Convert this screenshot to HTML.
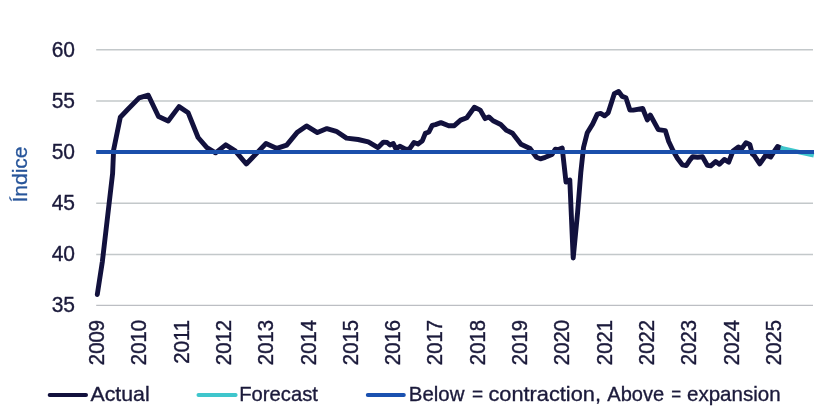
<!DOCTYPE html>
<html><head><meta charset="utf-8"><style>
html,body{margin:0;padding:0;background:#fff;}
body{width:825px;height:413px;overflow:hidden;}
svg{display:block;will-change:transform;}
.t{font-family:"Liberation Sans",sans-serif;font-size:21px;fill:#1b1a3b;stroke:#1b1a3b;stroke-width:0.35px;}
.yr{font-size:20.3px;}
.yt{font-family:"Liberation Sans",sans-serif;font-size:21px;fill:#27559a;stroke:#27559a;stroke-width:0.3px;}
</style></head><body>
<svg width="825" height="413" viewBox="0 0 825 413">
<line x1="96.2" y1="49.7" x2="813" y2="49.7" stroke="#c3c8ca" stroke-width="1.4"/>
<line x1="96.2" y1="101.0" x2="813" y2="101.0" stroke="#c3c8ca" stroke-width="1.4"/>
<line x1="96.2" y1="152.2" x2="813" y2="152.2" stroke="#c3c8ca" stroke-width="1.4"/>
<line x1="96.2" y1="203.3" x2="813" y2="203.3" stroke="#c3c8ca" stroke-width="1.4"/>
<line x1="96.2" y1="254.5" x2="813" y2="254.5" stroke="#c3c8ca" stroke-width="1.4"/>
<line x1="96.2" y1="305.4" x2="813" y2="305.4" stroke="#bcbec3" stroke-width="1.4"/>
<text transform="translate(75,56.6) scale(1,1.06)" text-anchor="end" class="t">60</text>
<text transform="translate(75,107.9) scale(1,1.06)" text-anchor="end" class="t">55</text>
<text transform="translate(75,159.1) scale(1,1.06)" text-anchor="end" class="t">50</text>
<text transform="translate(75,210.2) scale(1,1.06)" text-anchor="end" class="t">45</text>
<text transform="translate(75,261.4) scale(1,1.06)" text-anchor="end" class="t">40</text>
<text transform="translate(75,312.3) scale(1,1.06)" text-anchor="end" class="t">35</text>
<text transform="translate(104.0,320) rotate(-90) scale(1,1.11)" text-anchor="end" class="t yr">2009</text>
<text transform="translate(146.3,320) rotate(-90) scale(1,1.11)" text-anchor="end" class="t yr">2010</text>
<text transform="translate(188.6,320) rotate(-90) scale(1,1.11)" text-anchor="end" class="t yr">2011</text>
<text transform="translate(230.9,320) rotate(-90) scale(1,1.11)" text-anchor="end" class="t yr">2012</text>
<text transform="translate(273.2,320) rotate(-90) scale(1,1.11)" text-anchor="end" class="t yr">2013</text>
<text transform="translate(315.5,320) rotate(-90) scale(1,1.11)" text-anchor="end" class="t yr">2014</text>
<text transform="translate(357.8,320) rotate(-90) scale(1,1.11)" text-anchor="end" class="t yr">2015</text>
<text transform="translate(400.1,320) rotate(-90) scale(1,1.11)" text-anchor="end" class="t yr">2016</text>
<text transform="translate(442.4,320) rotate(-90) scale(1,1.11)" text-anchor="end" class="t yr">2017</text>
<text transform="translate(484.7,320) rotate(-90) scale(1,1.11)" text-anchor="end" class="t yr">2018</text>
<text transform="translate(527.0,320) rotate(-90) scale(1,1.11)" text-anchor="end" class="t yr">2019</text>
<text transform="translate(569.3,320) rotate(-90) scale(1,1.11)" text-anchor="end" class="t yr">2020</text>
<text transform="translate(611.6,320) rotate(-90) scale(1,1.11)" text-anchor="end" class="t yr">2021</text>
<text transform="translate(653.9,320) rotate(-90) scale(1,1.11)" text-anchor="end" class="t yr">2022</text>
<text transform="translate(696.2,320) rotate(-90) scale(1,1.11)" text-anchor="end" class="t yr">2023</text>
<text transform="translate(738.5,320) rotate(-90) scale(1,1.11)" text-anchor="end" class="t yr">2024</text>
<text transform="translate(780.8,320) rotate(-90) scale(1,1.11)" text-anchor="end" class="t yr">2025</text>
<polyline points="97.3,294.5 102.4,261.3 112.6,173.5 113.6,150.0 120.3,117.2 127.9,109.3 139.1,97.9 148.3,95.2 158.5,116.5 168.2,121.0 179.0,106.6 188.2,112.8 198.1,137.5 206.9,147.7 215.6,152.8 225.7,144.8 235.2,150.9 246.3,164.0 266.0,143.5 276.9,148.4 286.7,145.1 297.0,132.6 306.5,125.9 317.4,132.6 326.9,128.6 336.3,131.3 346.5,138.1 358.1,139.5 368.3,141.9 378.0,147.6 383.5,142.1 387.1,142.5 390.0,145.0 393.3,143.6 395.8,148.8 399.8,146.3 405.6,149.2 409.3,149.2 414.0,142.5 418.0,144.0 422.4,140.7 425.3,133.4 428.9,132.0 432.2,125.4 435.4,124.6 440.9,122.6 448.7,125.7 454.3,125.7 460.6,120.1 466.8,117.7 474.4,107.2 480.3,110.1 485.1,118.6 488.8,116.9 493.1,120.8 500.7,124.5 506.6,130.4 512.5,133.3 521.0,144.2 530.0,148.5 536.5,157.3 540.4,158.8 545.2,157.3 552.0,154.4 555.4,149.1 558.3,149.6 562.2,148.1 566.0,182.0 569.8,180.0 573.2,258.0 577.6,212.5 580.8,172.5 583.5,147.5 587.3,132.7 592.6,124.1 597.3,114.1 600.6,113.4 604.6,115.8 608.2,112.8 614.3,93.7 618.6,91.5 622.3,96.4 625.9,97.7 629.9,110.1 633.2,110.1 642.7,108.5 647.3,119.9 650.3,115.0 658.3,129.6 665.3,130.6 668.7,141.5 673.1,150.8 677.4,158.3 682.3,164.8 686.2,165.6 690.0,159.9 692.7,156.7 697.6,157.2 702.5,156.7 707.4,165.4 710.7,165.9 715.6,161.6 719.4,164.3 724.3,159.4 728.7,162.1 733.0,151.0 738.4,147.0 741.8,148.5 746.0,142.8 749.8,144.5 752.4,154.1 754.1,155.4 759.8,163.8 765.9,155.0 770.6,157.1 773.6,152.4 777.5,146.5 780.5,148.0" fill="none" stroke="#12113d" stroke-width="4.9" stroke-linejoin="round" stroke-linecap="round"/>
<polyline points="780.5,148.0 813.8,155.3" fill="none" stroke="#3fc6cc" stroke-width="4.4" stroke-linejoin="round"/>
<line x1="96.2" y1="152.0" x2="814" y2="152.0" stroke="#1a4fab" stroke-width="4.2"/>
<text transform="translate(26.9,174.5) rotate(-90)" text-anchor="middle" class="yt">Índice</text>
<line x1="49.7" y1="395" x2="86" y2="395" stroke="#12113d" stroke-width="4" stroke-linecap="round"/>
<line x1="198.5" y1="395" x2="235.6" y2="395" stroke="#3fc6cc" stroke-width="4" stroke-linecap="round"/>
<line x1="367.8" y1="395" x2="403.8" y2="395" stroke="#1a51b0" stroke-width="4" stroke-linecap="round"/>
<text x="90.5" y="401.2" class="t" textLength="59.2" lengthAdjust="spacingAndGlyphs">Actual</text>
<text x="239.2" y="401.2" class="t" textLength="78.7" lengthAdjust="spacingAndGlyphs">Forecast</text>
<text x="408.8" y="401.2" class="t" textLength="55.6" lengthAdjust="spacingAndGlyphs">Below</text>
<text x="472.0" y="401.2" class="t" textLength="11.1" lengthAdjust="spacingAndGlyphs">=</text>
<text x="488.4" y="401.2" class="t" textLength="112.6" lengthAdjust="spacingAndGlyphs">contraction,</text>
<text x="607.3" y="401.2" class="t" textLength="56.9" lengthAdjust="spacingAndGlyphs">Above</text>
<text x="671.3" y="401.2" class="t" textLength="9.9" lengthAdjust="spacingAndGlyphs">=</text>
<text x="687.0" y="401.2" class="t" textLength="93.6" lengthAdjust="spacingAndGlyphs">expansion</text>
</svg>
</body></html>
